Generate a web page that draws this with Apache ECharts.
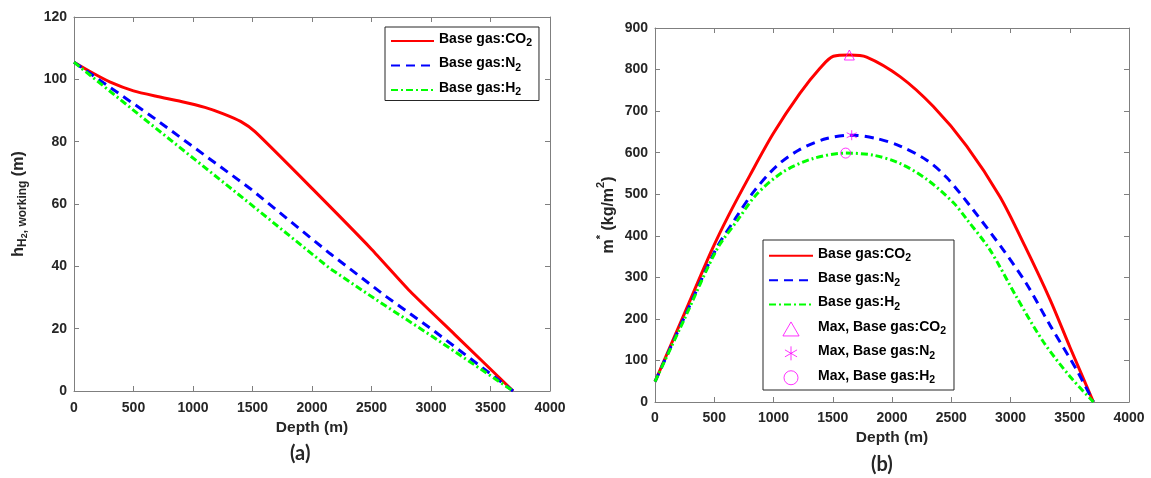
<!DOCTYPE html>
<html>
<head>
<meta charset="utf-8">
<script src="https://cdn.jsdelivr.net/npm/echarts@6/dist/echarts.min.js"></script>
<style>
  html, body { margin: 0; padding: 0; background: #fff; }
  #chart { width: 1151px; height: 478px; }
</style>
</head>
<body>
<div id="chart"></div>
<script>
// (a) working height of H2 vs depth
const depthA_CO2 = [0, 150, 300, 500, 700, 900, 1100, 1250, 1400, 1521, 2000, 2500, 2824, 3200, 3690]
const hA_CO2 = [105.5, 102.2, 99.2, 96.3, 94.5, 92.9, 91.0, 89.0, 86.5, 83.2, 65.0, 45.5, 32.0, 18.1, 0]
const depthA_N2 = [0, 300, 639, 1479, 2151, 2627, 3000, 3690]
const hA_N2 = [105.5, 97.5, 88.5, 65.0, 44.1, 30.2, 20.0, 0]
const depthA_H2 = [0, 639, 1479, 2151, 2543, 3000, 3690]
const hA_H2 = [105.5, 85.8, 60.1, 39.3, 29.2, 17.8, 0]

// (b) m* vs depth
const depthB_CO2 = [0, 250, 480, 619, 802, 998, 1224, 1392, 1505, 1640, 1786, 2068, 2349, 2630, 2911, 3122, 3333, 3500, 3700]
const mB_CO2 = [49, 214, 366, 448, 546, 646, 743, 803, 832, 835, 830, 783, 711, 616, 494, 375, 247, 133, 0]
const depthB_N2 = [0, 250, 511, 675, 830, 1027, 1224, 1449, 1660, 1871, 2068, 2293, 2462, 2686, 2939, 3136, 3333, 3559, 3700]
const mB_N2 = [49, 205, 366, 440, 505, 568, 608, 634, 642, 634, 616, 582, 540, 462, 366, 284, 185, 77, 0]
const depthB_H2 = [0, 250, 520, 703, 858, 1083, 1336, 1609, 1842, 2068, 2293, 2517, 2630, 2827, 3052, 3277, 3500, 3700]
const mB_H2 = [49, 201, 366, 440, 500, 554, 586, 599, 594, 574, 536, 480, 440, 366, 252, 145, 62, 0]

// maxima markers
const maxCO2 = [1640, 835]
const maxN2 = [1660, 642]
const maxH2 = [1609, 599]

const xTicks = { min: 0, max: 4000, interval: 500 }

const zip = (xs, ys) => xs.map((x, i) => [x, ys[i]])

const axisColor = '#7f7f7f'
const labelFont = { fontFamily: 'Liberation Sans', fontWeight: 'bold', fontSize: 14, color: '#262626' }
const nameFont = { fontFamily: 'Liberation Sans', fontWeight: 'bold', fontSize: 15.5, color: '#262626' }

const legendNames = {
    'a_CO2': '{b|Base gas:CO}{s|2}',
    'a_N2': '{b|Base gas:N}{s|2}',
    'a_H2': '{b|Base gas:H}{s|2}',
    'b_CO2': '{b|Base gas:CO}{s|2}',
    'b_N2': '{b|Base gas:N}{s|2}',
    'b_H2': '{b|Base gas:H}{s|2}',
    'max_CO2': '{b|Max, Base gas:CO}{s|2}',
    'max_N2': '{b|Max, Base gas:N}{s|2}',
    'max_H2': '{b|Max, Base gas:H}{s|2}'
}

// the padding under the main text drops the subscript below its baseline
const legendRich = {
    b: { fontFamily: 'Liberation Sans', fontWeight: 'bold', fontSize: 14, color: '#000', lineHeight: 16, padding: [2.5, 0, 3, 0], verticalAlign: 'bottom' },
    s: { fontFamily: 'Liberation Sans', fontWeight: 'bold', fontSize: 10.5, color: '#000', lineHeight: 10, verticalAlign: 'bottom' }
}

const boxAxisX = (gridIndex, pos, showLabel) => ({
    type: 'value',
    gridIndex,
    position: pos,
    ...xTicks,
    axisLine: { show: true, onZero: false, lineStyle: { color: axisColor, width: 1 } },
    axisTick: { show: true, inside: true, length: 5, lineStyle: { color: axisColor } },
    splitLine: { show: false },
    axisLabel: { show: showLabel, margin: gridIndex === 0 ? 10 : 9, formatter: v => String(v), ...labelFont }
})

const boxAxisY = (gridIndex, pos, showLabel, max, interval) => ({
    type: 'value',
    gridIndex,
    position: pos,
    min: 0,
    max,
    interval,
    axisLine: { show: true, onZero: false, lineStyle: { color: axisColor, width: 1 } },
    axisTick: { show: true, inside: true, length: 5, lineStyle: { color: axisColor } },
    splitLine: { show: false },
    axisLabel: { show: showLabel, margin: 7, formatter: v => String(v), ...labelFont }
})

const chart = echarts.init(document.getElementById('chart'))

const xBottomA = boxAxisX(0, 'bottom', true)
xBottomA.name = 'Depth (m)'
xBottomA.nameLocation = 'middle'
xBottomA.nameGap = 29
xBottomA.nameTextStyle = nameFont

const xBottomB = boxAxisX(1, 'bottom', true)
xBottomB.name = 'Depth (m)'
xBottomB.nameLocation = 'middle'
xBottomB.nameGap = 28
xBottomB.nameTextStyle = nameFont

const yLeftA = boxAxisY(0, 'left', true, 120, 20)
yLeftA.name = '{b|h}{s|H}{ss|2}{s|, working}{b| (m)}'
yLeftA.nameLocation = 'middle'
yLeftA.nameGap = 45
yLeftA.nameRotate = 90
yLeftA.nameTextStyle = {
    rich: {
        b: { ...nameFont, fontSize: 16, lineHeight: 20, padding: [0, 0, 2, 0], verticalAlign: 'bottom' },
        s: { ...nameFont, fontSize: 12, lineHeight: 12, verticalAlign: 'bottom' },
        ss: { ...nameFont, fontSize: 9, lineHeight: 4, verticalAlign: 'bottom' }
    }
}

const yLeftB = boxAxisY(1, 'left', true, 900, 100)
yLeftB.name = '{b|m}{sup|*}{b| (kg/m}{sup|2}{b|)}'
yLeftB.nameLocation = 'middle'
yLeftB.nameGap = 38
yLeftB.nameRotate = 90
yLeftB.nameTextStyle = {
    rich: {
        b: { ...nameFont, fontSize: 16, lineHeight: 22, verticalAlign: 'bottom' },
        sup: { ...nameFont, fontSize: 11, lineHeight: 11, verticalAlign: 'top' }
    }
}

const lineSeries = (name, xi, yi, data, color, type, smooth) => ({
    name,
    type: 'line',
    xAxisIndex: xi,
    yAxisIndex: yi,
    data,
    symbol: 'none',
    smooth,
    lineStyle: { color, width: 3, type },
    itemStyle: { color },
    z: 3
})

const markerSeries = (name, point, symbol) => ({
    name,
    type: 'scatter',
    xAxisIndex: 1,
    yAxisIndex: 1,
    data: [point],
    symbol,
    symbolSize: 10,
    itemStyle: { color: 'rgba(0,0,0,0)', borderColor: '#ff00ff', borderWidth: 1 },
    z: 5
})

// line entries in the legend show only the line, no symbol
const lineEntry = name => ({ name, itemStyle: { opacity: 0 } })

chart.setOption({
    backgroundColor: '#fff',
    animation: false,
    grid: [
        { left: 74, top: 17, width: 476, height: 374 },
        { left: 655, top: 28, width: 474, height: 374 }
    ],
    xAxis: [
        xBottomA,
        xBottomB,
        boxAxisX(0, 'top', false),
        boxAxisX(1, 'top', false)
    ],
    yAxis: [
        yLeftA,
        yLeftB,
        boxAxisY(0, 'right', false, 120, 20),
        boxAxisY(1, 'right', false, 900, 100)
    ],
    legend: [
        {
            orient: 'vertical',
            left: 385,
            top: 27,
            padding: [2.5, 7, 2.5, 5],
            itemGap: 5,
            itemWidth: 43,
            itemHeight: 14,
            borderColor: '#262626',
            borderWidth: 1,
            borderRadius: 0,
            backgroundColor: '#fff',
            data: ['a_CO2', 'a_N2', 'a_H2'].map(lineEntry),
            formatter: name => legendNames[name],
            textStyle: { rich: legendRich }
        },
        {
            orient: 'vertical',
            left: 763,
            top: 240,
            padding: [4.25, 8, 4.25, 5],
            itemGap: 4.9,
            itemWidth: 44,
            itemHeight: 14,
            borderColor: '#262626',
            borderWidth: 1,
            borderRadius: 0,
            backgroundColor: '#fff',
            data: [
                lineEntry('b_CO2'), lineEntry('b_N2'), lineEntry('b_H2'),
                { name: 'max_CO2', itemStyle: { borderWidth: 1 } },
                { name: 'max_N2', itemStyle: { borderWidth: 1 } },
                { name: 'max_H2', itemStyle: { borderWidth: 1 } }
            ],
            formatter: name => legendNames[name],
            textStyle: { rich: legendRich }
        }
    ],
    graphic: [
        { type: 'text', left: 290, top: 444, style: { text: '(a)', font: 'bold 20px Lato', fill: '#262626' } },
        { type: 'text', left: 871, top: 455, style: { text: '(b)', font: 'bold 20px Lato', fill: '#262626' } }
    ],
    series: [
        lineSeries('a_CO2', 0, 0, zip(depthA_CO2, hA_CO2), '#ff0000', 'solid', 0.2),
        lineSeries('a_N2', 0, 0, zip(depthA_N2, hA_N2), '#0000ff', [9, 6], false),
        lineSeries('a_H2', 0, 0, zip(depthA_H2, hA_H2), '#00ff00', [7, 3, 2, 3], false),
        lineSeries('b_CO2', 1, 1, zip(depthB_CO2, mB_CO2), '#ff0000', 'solid', 0.3),
        lineSeries('b_N2', 1, 1, zip(depthB_N2, mB_N2), '#0000ff', [9, 6], 0.3),
        lineSeries('b_H2', 1, 1, zip(depthB_H2, mB_H2), '#00ff00', [7, 3, 2, 3], 0.3),
        markerSeries('max_CO2', maxCO2, 'path://M5,0L10,8.66L0,8.66Z'),
        markerSeries('max_N2', maxN2, 'path://M5,0L5,10M0.67,2.5L9.33,7.5M0.67,7.5L9.33,2.5'),
        markerSeries('max_H2', maxH2, 'path://M10,5A5,5,0,1,1,0,5A5,5,0,1,1,10,5Z')
    ]
})
</script>
</body>
</html>
